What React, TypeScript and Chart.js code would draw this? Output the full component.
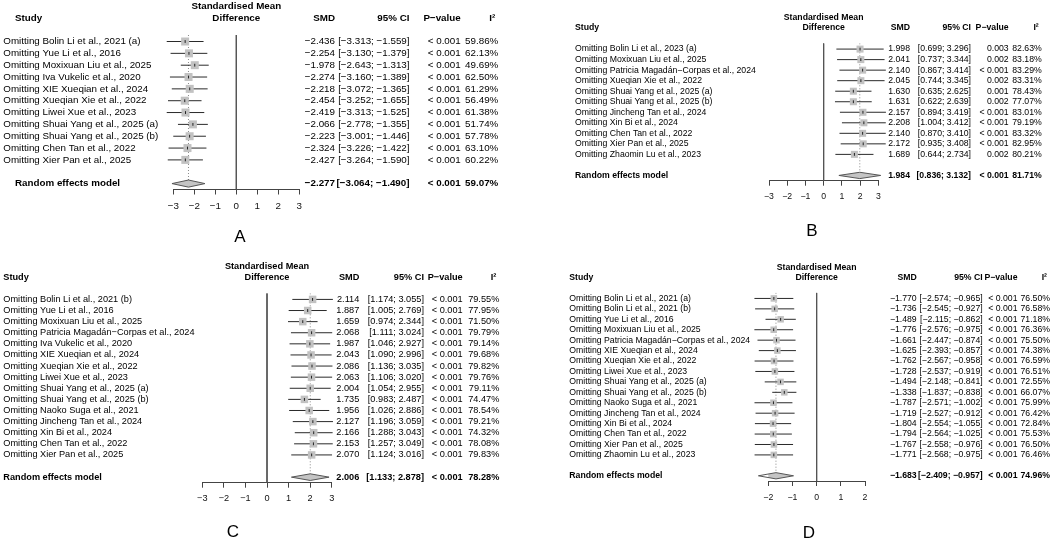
import React, { useEffect, useRef } from 'react';
import { Chart, registerables } from 'chart.js';

Chart.register(...registerables);

const W = 1052;
const H = 541;
const MINUS = '\u2212';
const FONT = '"Liberation Sans", Arial, Helvetica, sans-serif';

// ---------------- Panel A ----------------
const studiesA = [
  'Omitting Bolin Li et al., 2021 (a)',
  'Omitting Yue Li et al., 2016',
  'Omitting Moxixuan Liu et al., 2025',
  'Omitting Iva Vukelic et al., 2020',
  'Omitting XIE Xueqian et al., 2024',
  'Omitting Xueqian Xie et al., 2022',
  'Omitting Liwei Xue et al., 2023',
  'Omitting Shuai Yang et al., 2025 (a)',
  'Omitting Shuai Yang et al., 2025 (b)',
  'Omitting Chen Tan et al., 2022',
  'Omitting Xier Pan et al., 2025',
];
const smdA = [-2.436, -2.254, -1.978, -2.274, -2.218, -2.454, -2.419, -2.066, -2.223, -2.324, -2.427];
const lowerA = [-3.313, -3.13, -2.643, -3.16, -3.072, -3.252, -3.313, -2.778, -3.001, -3.226, -3.264];
const upperA = [-1.559, -1.379, -1.313, -1.389, -1.365, -1.655, -1.525, -1.355, -1.446, -1.422, -1.59];
const pA = ['< 0.001', '< 0.001', '< 0.001', '< 0.001', '< 0.001', '< 0.001', '< 0.001', '< 0.001', '< 0.001', '< 0.001', '< 0.001'];
const i2A = [59.86, 62.13, 49.69, 62.5, 61.29, 56.49, 61.38, 51.74, 57.78, 63.1, 60.22];
const summaryA = [-2.277, -3.064, -1.49];
const summaryPA = '< 0.001';
const summaryI2A = 59.07;
const ticksA = [-3, -2, -1, 0, 1, 2, 3];

// ---------------- Panel B ----------------
const studiesB = [
  'Omitting Bolin Li et al., 2023 (a)',
  'Omitting Moxixuan Liu et al., 2025',
  'Omitting Patricia Magadán\u2212Corpas et al., 2024',
  'Omitting Xueqian Xie et al., 2022',
  'Omitting Shuai Yang et al., 2025 (a)',
  'Omitting Shuai Yang et al., 2025 (b)',
  'Omitting Jincheng Tan et al., 2024',
  'Omitting Xin Bi et al., 2024',
  'Omitting Chen Tan et al., 2022',
  'Omitting Xier Pan et al., 2025',
  'Omitting Zhaomin Lu et al., 2023',
];
const smdB = [1.998, 2.041, 2.14, 2.045, 1.63, 1.631, 2.157, 2.208, 2.14, 2.172, 1.689];
const lowerB = [0.699, 0.737, 0.867, 0.744, 0.635, 0.622, 0.894, 1.004, 0.87, 0.935, 0.644];
const upperB = [3.296, 3.344, 3.414, 3.345, 2.625, 2.639, 3.419, 3.412, 3.41, 3.408, 2.734];
const pB = ['0.003', '0.002', '< 0.001', '0.002', '0.001', '0.002', '< 0.001', '< 0.001', '< 0.001', '< 0.001', '0.002'];
const i2B = [82.63, 83.18, 83.29, 83.31, 78.43, 77.07, 83.01, 79.19, 83.32, 82.95, 80.21];
const summaryB = [1.984, 0.836, 3.132];
const summaryPB = '< 0.001';
const summaryI2B = 81.71;
const ticksB = [-3, -2, -1, 0, 1, 2, 3];

// ---------------- Panel C ----------------
const studiesC = [
  'Omitting Bolin Li et al., 2021 (b)',
  'Omitting Yue Li et al., 2016',
  'Omitting Moxixuan Liu et al., 2025',
  'Omitting Patricia Magadán\u2212Corpas et al., 2024',
  'Omitting Iva Vukelic et al., 2020',
  'Omitting XIE Xueqian et al., 2024',
  'Omitting Xueqian Xie et al., 2022',
  'Omitting Liwei Xue et al., 2023',
  'Omitting Shuai Yang et al., 2025 (a)',
  'Omitting Shuai Yang et al., 2025 (b)',
  'Omitting Naoko Suga et al., 2021',
  'Omitting Jincheng Tan et al., 2024',
  'Omitting Xin Bi et al., 2024',
  'Omitting Chen Tan et al., 2022',
  'Omitting Xier Pan et al., 2025',
];
const smdC = [2.114, 1.887, 1.659, 2.068, 1.987, 2.043, 2.086, 2.063, 2.004, 1.735, 1.956, 2.127, 2.166, 2.153, 2.07];
const lowerC = [1.174, 1.005, 0.974, 1.111, 1.046, 1.09, 1.136, 1.106, 1.054, 0.983, 1.026, 1.196, 1.288, 1.257, 1.124];
const upperC = [3.055, 2.769, 2.344, 3.024, 2.927, 2.996, 3.035, 3.02, 2.955, 2.487, 2.886, 3.059, 3.043, 3.049, 3.016];
const pC = ['< 0.001', '< 0.001', '< 0.001', '< 0.001', '< 0.001', '< 0.001', '< 0.001', '< 0.001', '< 0.001', '< 0.001', '< 0.001', '< 0.001', '< 0.001', '< 0.001', '< 0.001'];
const i2C = [79.55, 77.95, 71.5, 79.79, 79.14, 79.68, 79.82, 79.76, 79.11, 74.47, 78.54, 79.21, 74.32, 78.08, 79.83];
const summaryC = [2.006, 1.133, 2.878];
const summaryPC = '< 0.001';
const summaryI2C = 78.28;
const ticksC = [-3, -2, -1, 0, 1, 2, 3];

// ---------------- Panel D ----------------
const studiesD = [
  'Omitting Bolin Li et al., 2021 (a)',
  'Omitting Bolin Li et al., 2021 (b)',
  'Omitting Yue Li et al., 2016',
  'Omitting Moxixuan Liu et al., 2025',
  'Omitting Patricia Magadán\u2212Corpas et al., 2024',
  'Omitting XIE Xueqian et al., 2024',
  'Omitting Xueqian Xie et al., 2022',
  'Omitting Liwei Xue et al., 2023',
  'Omitting Shuai Yang et al., 2025 (a)',
  'Omitting Shuai Yang et al., 2025 (b)',
  'Omitting Naoko Suga et al., 2021',
  'Omitting Jincheng Tan et al., 2024',
  'Omitting Xin Bi et al., 2024',
  'Omitting Chen Tan et al., 2022',
  'Omitting Xier Pan et al., 2025',
  'Omitting Zhaomin Lu et al., 2023',
];
const smdD = [-1.77, -1.736, -1.489, -1.776, -1.661, -1.625, -1.762, -1.728, -1.494, -1.338, -1.787, -1.719, -1.804, -1.794, -1.767, -1.771];
const lowerD = [-2.574, -2.545, -2.115, -2.576, -2.447, -2.393, -2.567, -2.537, -2.148, -1.837, -2.571, -2.527, -2.554, -2.564, -2.558, -2.568];
const upperD = [-0.965, -0.927, -0.862, -0.975, -0.874, -0.857, -0.958, -0.919, -0.841, -0.838, -1.002, -0.912, -1.055, -1.025, -0.976, -0.975];
const pD = ['< 0.001', '< 0.001', '< 0.001', '< 0.001', '< 0.001', '< 0.001', '< 0.001', '< 0.001', '< 0.001', '< 0.001', '< 0.001', '< 0.001', '< 0.001', '< 0.001', '< 0.001', '< 0.001'];
const i2D = [76.5, 76.58, 71.18, 76.36, 75.5, 74.38, 76.59, 76.51, 72.55, 66.07, 75.99, 76.42, 72.84, 75.53, 76.5, 76.46];
const summaryD = [-1.683, -2.409, -0.957];
const summaryPD = '< 0.001';
const summaryI2D = 74.96;
const ticksD = [-2, -1, 0, 1, 2];

// ---------------- layout (positions / sizes) ----------------
type Layout = {
  xPx: [number, number];
  topPx: number;
  axisPx: number;
  labelPadTop: number;
  font: number;
  labelX: number;
  headX: number;
  smdR: number;
  ciR: number;
  pR: number;
  i2R: number;
  box: number;
  letter: [string, number, number];
};

type PanelDef = {
  studies: string[];
  smd: number[];
  lo: number[];
  hi: number[];
  p: string[];
  i2: number[];
  summary: number[];
  summaryP: string;
  summaryI2: number;
  ticks: number[];
  L: Layout;
};

const AXIS_H = 34;
const TICK_LEN = 5;

const panels: PanelDef[] = [
  {
    studies: studiesA, smd: smdA, lo: lowerA, hi: upperA, p: pA, i2: i2A,
    summary: summaryA, summaryP: summaryPA, summaryI2: summaryI2A, ticks: ticksA,
    L: { xPx: [173.3, 299.3], topPx: 35, axisPx: 189.5, labelPadTop: 17.2, font: 9.8, labelX: 3.3, headX: 15,
      smdR: 335, ciR: 409.5, pR: 460.7, i2R: 498.3, box: 8, letter: ['A', 240, 237] },
  },
  {
    studies: studiesB, smd: smdB, lo: lowerB, hi: upperB, p: pB, i2: i2B,
    summary: summaryB, summaryP: summaryPB, summaryI2: summaryI2B, ticks: ticksB,
    L: { xPx: [769, 878.3], topPx: 43.3, axisPx: 180.7, labelPadTop: 16, font: 8.7, labelX: 575, headX: 575,
      smdR: 910, ciR: 971, pR: 1008.7, i2R: 1041.7, box: 7, letter: ['B', 812, 231] },
  },
  {
    studies: studiesC, smd: smdC, lo: lowerC, hi: upperC, p: pC, i2: i2C,
    summary: summaryC, summaryP: summaryPC, summaryI2: summaryI2C, ticks: ticksC,
    L: { xPx: [202.3, 331.7], topPx: 293.3, axisPx: 482.7, labelPadTop: 15.8, font: 9.2, labelX: 3.3, headX: 3.3,
      smdR: 359.3, ciR: 424, pR: 462.7, i2R: 499.3, box: 7.5, letter: ['C', 233, 532] },
  },
  {
    studies: studiesD, smd: smdD, lo: lowerD, hi: upperD, p: pD, i2: i2D,
    summary: summaryD, summaryP: summaryPD, summaryI2: summaryI2D, ticks: ticksD,
    L: { xPx: [768.3, 865], topPx: 292.7, axisPx: 481, labelPadTop: 17, font: 8.7, labelX: 569.3, headX: 569.3,
      smdR: 916.7, ciR: 982.7, pR: 1017.5, i2R: 1050, box: 6.5, letter: ['D', 809, 533] },
  },
];

const fmt = (v: number) => (v < 0 ? MINUS : '') + Math.abs(v).toFixed(3);
const fmtTick = (v: number) => (v < 0 ? MINUS : '') + String(Math.abs(v));

function textPlugin(p: PanelDef) {
  return {
    id: 'forestText',
    afterDraw(chart: any) {
      const ctx: CanvasRenderingContext2D = chart.ctx;
      const ys = chart.scales.y;
      const xs = chart.scales.x;
      const L = p.L;
      const n = p.studies.length;
      ctx.save();
      ctx.fillStyle = '#000';
      ctx.textBaseline = 'middle';
      const put = (t: string, x: number, y: number, align: CanvasTextAlign, bold: boolean) => {
        ctx.font = `${bold ? 'bold ' : ''}${L.font}px ${FONT}`;
        ctx.textAlign = align;
        ctx.fillText(t, x, y);
      };
      const yHead = ys.getPixelForValue(-1);
      const yHead2 = ys.getPixelForValue(-2);
      const xc = xs.getPixelForValue((p.ticks[0] + p.ticks[p.ticks.length - 1]) / 2);
      put('Standardised Mean', xc, yHead2, 'center', true);
      put('Difference', xc, yHead, 'center', true);
      put('Study', L.headX, yHead, 'left', true);
      put('SMD', L.smdR, yHead, 'right', true);
      put('95% CI', L.ciR, yHead, 'right', true);
      put('P\u2212value', L.pR, yHead, 'right', true);
      put('I\u00B2', L.i2R - 3, yHead, 'right', true);
      for (let i = 0; i < n; i++) {
        const y = ys.getPixelForValue(i + 1);
        put(p.studies[i], L.labelX, y, 'left', false);
        put(fmt(p.smd[i]), L.smdR, y, 'right', false);
        put(`[${fmt(p.lo[i])}; ${fmt(p.hi[i])}]`, L.ciR, y, 'right', false);
        put(p.p[i], L.pR, y, 'right', false);
        put(p.i2[i].toFixed(2) + '%', L.i2R, y, 'right', false);
      }
      const yS = ys.getPixelForValue(n + 2);
      put('Random effects model', L.headX, yS, 'left', true);
      put(fmt(p.summary[0]), L.smdR, yS, 'right', true);
      put(`[${fmt(p.summary[1])}; ${fmt(p.summary[2])}]`, L.ciR, yS, 'right', true);
      put(p.summaryP, L.pR, yS, 'right', true);
      put(p.summaryI2.toFixed(2) + '%', L.i2R, yS, 'right', true);
      ctx.font = `17px ${FONT}`;
      ctx.textAlign = 'center';
      ctx.fillText(L.letter[0], L.letter[1], L.letter[2]);
      ctx.restore();
    },
  };
}

function makeConfig(p: PanelDef): any {
  const L = p.L;
  const n = p.studies.length;
  const yMin = 0.45;
  const yMax = n + 2.5;
  const sumRow = n + 2;
  const dh = 0.3;
  const pts = p.smd.map((v, i) => ({ x: v, y: i + 1 }));
  const ciData: { x: number; y: number }[] = [];
  p.studies.forEach((_, i) => {
    ciData.push({ x: p.lo[i], y: i + 1 }, { x: p.hi[i], y: i + 1 }, { x: NaN, y: NaN });
  });
  const [est, lo, hi] = p.summary;
  const xMin = p.ticks[0];
  const xMax = p.ticks[p.ticks.length - 1];
  const tickPad = L.labelPadTop - TICK_LEN - (L.font * 1.2) / 2;
  return {
    type: 'scatter',
    data: {
      datasets: [
        {
          type: 'scatter', data: pts, pointStyle: 'line', pointRotation: 90, pointRadius: 1.4,
          borderColor: '#222', borderWidth: 1, backgroundColor: '#222', order: 0, clip: false,
        },
        {
          type: 'scatter', data: pts, pointStyle: 'rect', pointRadius: L.box / Math.SQRT2,
          backgroundColor: '#c2c2c2', borderWidth: 0, order: 1, clip: false,
        },
        {
          type: 'line',
          data: [
            { x: lo, y: sumRow }, { x: est, y: sumRow - dh }, { x: hi, y: sumRow },
            { x: est, y: sumRow + dh }, { x: lo, y: sumRow },
          ],
          borderColor: '#555', borderWidth: 1, backgroundColor: '#c4c4c4', fill: 'shape',
          pointRadius: 0, tension: 0, order: 2, clip: false,
        },
        {
          type: 'line', data: ciData, borderColor: '#2a2a2a', borderWidth: 1, pointRadius: 0,
          spanGaps: false, tension: 0, fill: false, order: 3, clip: false,
        },
        {
          type: 'line', data: [{ x: est, y: yMin }, { x: est, y: sumRow - dh }],
          borderColor: '#8a8a8a', borderWidth: 1, borderDash: [1, 2], pointRadius: 0, fill: false, order: 4,
        },
        {
          type: 'line', data: [{ x: 0, y: yMin }, { x: 0, y: yMax }],
          borderColor: '#555', borderWidth: 1, pointRadius: 0, fill: false, order: 5,
        },
      ],
    },
    options: {
      animation: false,
      responsive: false,
      maintainAspectRatio: false,
      devicePixelRatio: 1,
      events: [],
      layout: {
        padding: {
          left: L.xPx[0],
          right: W - L.xPx[1],
          top: L.topPx,
          bottom: H - L.axisPx - AXIS_H,
        },
      },
      plugins: { legend: { display: false }, tooltip: { enabled: false } },
      scales: {
        x: {
          type: 'linear',
          min: xMin,
          max: xMax,
          afterBuildTicks: (scale: any) => {
            scale.ticks = p.ticks.map((v) => ({ value: v }));
          },
          afterFit: (scale: any) => {
            scale.height = AXIS_H;
          },
          ticks: {
            autoSkip: false,
            maxRotation: 0,
            padding: tickPad,
            color: '#111',
            font: { family: FONT, size: L.font },
            callback: (v: any) => fmtTick(Number(v)),
          },
          grid: { display: true, drawOnChartArea: false, drawTicks: true, tickLength: TICK_LEN, color: '#444', lineWidth: 1 },
          border: { display: true, color: '#444', width: 1 },
        },
        y: { type: 'linear', display: false, reverse: true, min: yMin, max: yMax },
      },
    },
    plugins: [textPlugin(p)],
  };
}

function ForestPanel({ panel }: { panel: PanelDef }) {
  const ref = useRef<HTMLCanvasElement>(null);
  useEffect(() => {
    const chart = new Chart(ref.current as HTMLCanvasElement, makeConfig(panel));
    return () => chart.destroy();
  }, [panel]);
  return (
    <canvas
      ref={ref}
      width={W}
      height={H}
      style={{ position: 'absolute', left: 0, top: 0, width: W, height: H, pointerEvents: 'none' }}
    />
  );
}

export default function App() {
  return (
    <div style={{ position: 'absolute', left: 0, top: 0, width: W, height: H, background: '#fff', overflow: 'hidden' }}>
      {panels.map((p, i) => (
        <ForestPanel key={i} panel={p} />
      ))}
    </div>
  );
}
